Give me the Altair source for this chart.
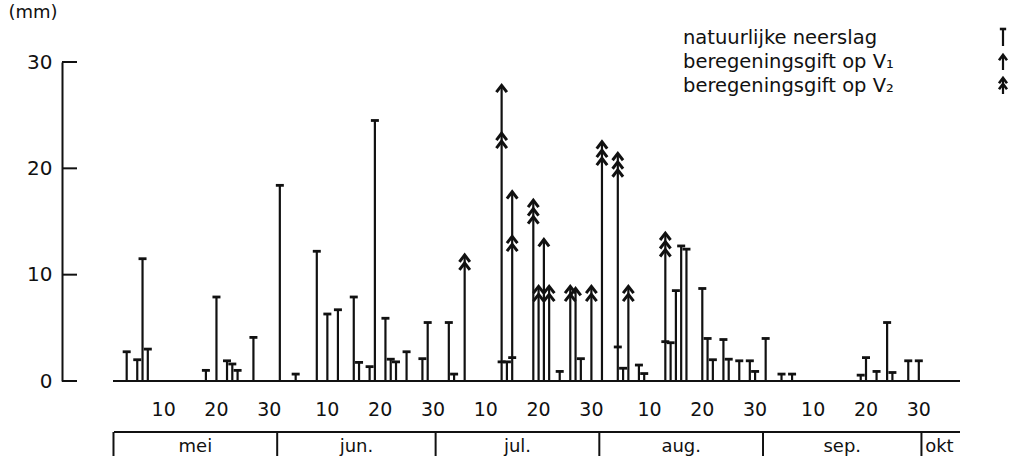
import altair as alt
import pandas as pd

# ---------------- data (day index: 0 = 1 May) ----------------
rain_days = [2, 4, 5, 6, 17, 19, 21, 22, 23, 26, 31, 34, 38, 40, 42, 45, 46, 48, 49,
             51, 52, 53, 55, 58, 59, 63, 64, 73, 74, 75, 84, 88, 95, 96, 99, 100,
             104, 105, 106, 107, 108, 111, 112, 113, 115, 116, 118, 120, 121, 123,
             126, 128, 141, 142, 144, 146, 147, 150, 152]
rain_mm = [2.75, 2.0, 11.5, 3.0, 1.0, 7.9, 1.9, 1.6, 1.0, 4.1, 18.4, 0.65, 12.2, 6.3,
           6.7, 7.9, 1.75, 1.35, 24.5, 5.9, 2.05, 1.8, 2.75, 2.1, 5.5, 5.5, 0.65,
           1.8, 1.8, 2.2, 0.9, 2.1, 3.2, 1.2, 1.5, 0.7, 3.7, 3.6, 8.5, 12.7, 12.4,
           8.7, 4.0, 2.0, 3.9, 2.05, 1.9, 1.9, 0.9, 4.0, 0.65, 0.65, 0.55, 2.2, 0.9,
           5.5, 0.8, 1.9, 1.9]

v1_days = [73, 75, 79, 81, 87, 92, 95, 104]
v1_mm = [27.8, 17.8, 17.0, 13.3, 8.7, 22.5, 21.4, 13.9]

v2_days = [66, 73, 75, 79, 80, 82, 86, 90, 92, 95, 97, 104]
v2_mm = [11.85, 23.3, 13.6, 16.2, 8.9, 8.9, 8.9, 8.9, 21.7, 20.6, 8.9, 13.1]

y_ticks = [0, 10, 20, 30]
tick_days = [9, 19, 29, 40, 50, 60, 70, 80, 90, 101, 111, 121, 132, 142, 152]
tick_labels = ["10", "20", "30", "10", "20", "30", "10", "20", "30",
               "10", "20", "30", "10", "20", "30"]
month_names = ["mei", "jun.", "jul.", "aug.", "sep.", "okt"]
month_start = [0, 31, 61, 92, 123, 153]
month_end = [31, 61, 92, 123, 153, 159.8]

legend_labels = ["natuurlijke neerslag", "beregeningsgift op V\u2081",
                 "beregeningsgift op V\u2082"]
unit_label = "(mm)"

# ---------------- tables ----------------
rain_df = pd.DataFrame({"day": rain_days, "mm": rain_mm})
v1_df = pd.DataFrame({"day": v1_days, "mm": v1_mm})
v2_df = pd.DataFrame({"day": v2_days, "mm": v2_mm})
stem_df = (pd.concat([rain_df, v1_df, v2_df]).groupby("day", as_index=False)["mm"].max())
ytick_df = pd.DataFrame({"v": y_ticks})
base_df = pd.DataFrame({"v": [0]})
tick_df = pd.DataFrame({"day": tick_days, "label": tick_labels})
month_df = pd.DataFrame({"name": month_names, "start": month_start, "end": month_end})
month_df["b"] = month_df["start"] - 0.5
month_df["mid"] = (month_df["start"] + month_df["end"] - 1) / 2

BLACK = "#111111"
FONT = "DejaVu Sans"
W, H = 898, 319

xs = alt.Scale(domain=[-10.25, 159.8], nice=False, zero=False)
ys = alt.Scale(domain=[0, 30], nice=False, zero=False)
yax = alt.Axis(values=y_ticks, title=None, ticks=False, grid=False, domain=True,
               domainColor=BLACK, domainWidth=2, labelFont=FONT, labelFontSize=20,
               labelColor=BLACK, labelPadding=10, format="d")


def X(f):
    return alt.X(f, scale=xs, axis=None)


def Y(f):
    return alt.Y(f, scale=ys, axis=yax)


CHEVRON = "M-1,1.3L0,0L1,1.3"


def chevrons(df, **kw):
    return alt.Chart(df).mark_point(shape=CHEVRON, size=110, filled=False,
                                    strokeWidth=3, color=BLACK, opacity=1,
                                    strokeJoin="miter", **kw).encode(
        x=X("day:Q"), y=Y("mm:Q"))


stems = alt.Chart(stem_df).mark_rule(color=BLACK, strokeWidth=2.2).encode(
    x=X("day:Q"), y=Y("mm:Q"), y2=alt.datum(0))

caps = alt.Chart(rain_df).mark_point(shape="M-1,0L1,0", size=64, filled=False,
                                     strokeWidth=2.8, color=BLACK, opacity=1).encode(
    x=X("day:Q"), y=Y("mm:Q"))

arr1 = chevrons(v1_df)
arr2a = chevrons(v2_df)
arr2b = chevrons(v2_df, yOffset=8)

yticks = alt.Chart(ytick_df).mark_rule(color=BLACK, strokeWidth=2).encode(
    x=alt.value(0), x2=alt.value(15), y=Y("v:Q"))

baseline = alt.Chart(base_df).mark_rule(color=BLACK, strokeWidth=2).encode(
    x=alt.value(51), x2=alt.value(W), y=Y("v:Q"))

xlabels = alt.Chart(tick_df).mark_text(font=FONT, fontSize=19, color=BLACK,
                                       baseline="middle").encode(
    x=X("day:Q"), y=alt.value(348), text="label:N")

box_top = alt.Chart(base_df).mark_rule(color=BLACK, strokeWidth=2).encode(
    x=alt.value(52), x2=alt.value(W), y=alt.value(370))

dividers = alt.Chart(month_df).mark_rule(color=BLACK, strokeWidth=2).encode(
    x=X("b:Q"), y=alt.value(370), y2=alt.value(400))

mlabels = alt.Chart(month_df).mark_text(font=FONT, fontSize=18, color=BLACK,
                                        baseline="middle").encode(
    x=X("mid:Q"), y=alt.value(385), text="name:N")

unit = alt.Chart(base_df).mark_text(font=FONT, fontSize=18, color=BLACK,
                                    baseline="middle", text=unit_label).encode(
    x=alt.value(-29), y=alt.value(-49))

layers = [stems, caps, arr1, arr2a, arr2b, yticks, baseline, xlabels, box_top,
          dividers, mlabels, unit]

for i, lab in enumerate(legend_labels):
    layers.append(alt.Chart(base_df).mark_text(font=FONT, fontSize=19.5, color=BLACK,
                                               align="left", baseline="middle",
                                               text=lab).encode(
        x=alt.value(621), y=alt.value(-24 + 24 * i)))

# legend symbols
layers.append(alt.Chart(base_df).mark_rule(color=BLACK, strokeWidth=2.2).encode(
    x=alt.value(941), y=alt.value(-33), y2=alt.value(-16)))
layers.append(alt.Chart(base_df).mark_point(shape="M-1,0L1,0", size=40, filled=False,
                                            strokeWidth=2.6, color=BLACK, opacity=1).encode(
    x=alt.value(941), y=alt.value(-33)))
layers.append(alt.Chart(base_df).mark_rule(color=BLACK, strokeWidth=2.2).encode(
    x=alt.value(941), y=alt.value(-6), y2=alt.value(8)))
layers.append(alt.Chart(base_df).mark_point(shape=CHEVRON, size=64, filled=False,
                                            strokeWidth=2.6, color=BLACK, opacity=1).encode(
    x=alt.value(941), y=alt.value(-7)))
layers.append(alt.Chart(base_df).mark_rule(color=BLACK, strokeWidth=2.2).encode(
    x=alt.value(941), y=alt.value(17), y2=alt.value(32)))
for off in (16, 22):
    layers.append(alt.Chart(base_df).mark_point(shape=CHEVRON, size=64, filled=False,
                                                strokeWidth=2.6, color=BLACK,
                                                opacity=1).encode(
        x=alt.value(941), y=alt.value(off)))

chart = alt.layer(*layers).properties(
    width=W, height=H,
    padding={"left": 62, "top": 62, "right": 55, "bottom": 75},
    autosize=alt.AutoSizeParams(type="none"),
    background="white",
).configure_view(stroke=None)

chart.save("out.html", embed_options={"renderer": "svg", "actions": False})
